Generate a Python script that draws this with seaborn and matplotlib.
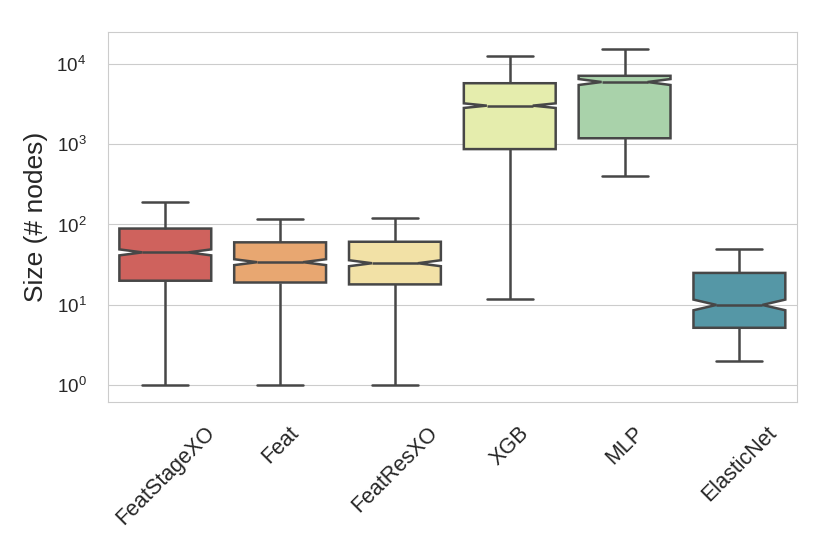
import numpy as np
import pandas as pd
import matplotlib
matplotlib.use("Agg")
import matplotlib.pyplot as plt
import seaborn as sns

# Box summaries (size in # nodes)
models = ["FeatStageXO", "Feat", "FeatResXO", "XGB", "MLP", "ElasticNet"]
whislo = [1, 1, 1, 12, 395, 2]
q1 = [20, 19, 18, 865, 1180, 5.2]
median = [45, 34, 33, 3000, 5900, 10]
q3 = [89, 60, 61, 5700, 7050, 25]
whishi = [190, 118, 122, 12500, 15200, 50]
# samples per quartile block (sets notch size)
block_n = [250, 152, 166, 666, 360, 86]

rows = []
for m, lo, a, b, c, hi, k in zip(models, whislo, q1, median, q3, whishi, block_n):
    vals = [lo] + [a] * k + [b] * k + [c] * k + [hi]
    rows.extend((m, v) for v in vals)
df = pd.DataFrame(rows, columns=["model", "size"])

sns.set_style("whitegrid")
plt.rcParams["font.family"] = ["Liberation Sans", "DejaVu Sans"]

fig, ax = plt.subplots(figsize=(8.3, 5.54), dpi=100)
sns.boxplot(data=df, x="model", y="size", hue="model", palette="Spectral",
            legend=False, notch=True, whis=(0, 100), log_scale=True,
            linewidth=1.8, linecolor=".28", ax=ax, order=models)
ax.set_xlabel("")
ax.set_ylabel("Size (# nodes)", fontsize=19, labelpad=6)
ax.tick_params(axis="x", labelsize=15.5, rotation=45, pad=11)
ax.tick_params(axis="y", labelsize=13.5, pad=12)
fig.subplots_adjust(left=0.130, right=0.960, top=0.942, bottom=0.274)
fig.savefig("out.png", dpi=100)
